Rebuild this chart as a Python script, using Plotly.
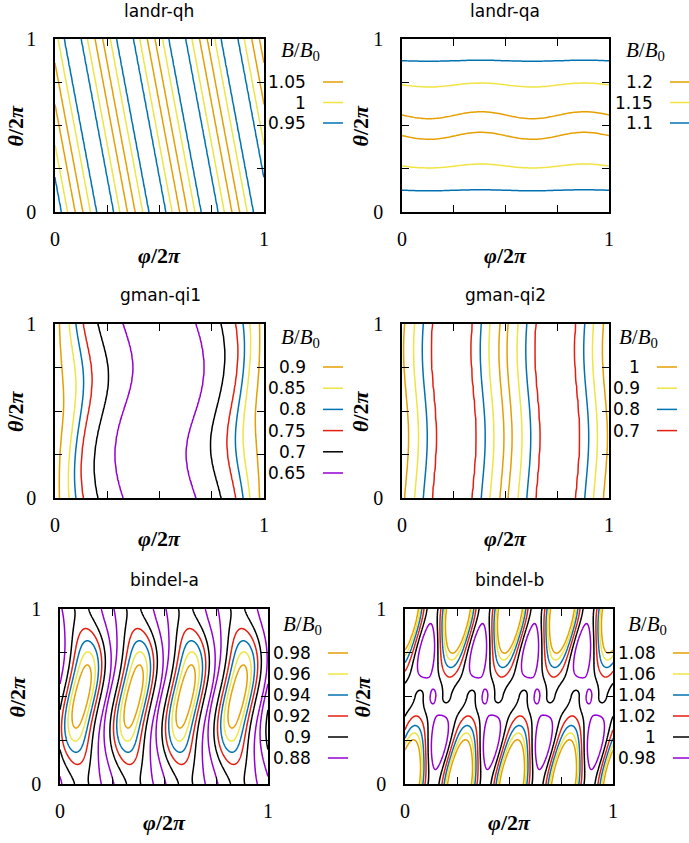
import numpy as np
import plotly.graph_objects as go

W, H = 689, 843

# ---------------- data ----------------
titles = ["landr-qh", "landr-qa", "gman-qi1", "gman-qi2", "bindel-a", "bindel-b"]
palette = ["#e69f00", "#f0e442", "#0072b2", "#e51e10", "#000000", "#9400d3"]  # highest level first
tick_vals = [0, 0.25, 0.5, 0.75, 1]
tick_text = ["0", "", "", "", "1"]

# landr-qh : quasi-helical, B depends on helical phase
qh_levels = [1.05, 1.0, 0.95]
qh_halfwidth = [0.075, 0.22, 0.335]      # phase distance of each level from B max
qh_bmax, qh_bmin = 1.07, 0.91
qh_nfp = 4
qh_theta_slope = 0.62
qh_phase0 = 0.115

# landr-qa : quasi-axisymmetric
qa_levels = [1.2, 1.15, 1.1]
qa_dist = [0.44, 0.265, 0.126]            # poloidal distance from B min (theta = 0)
qa_bmin, qa_bmax = 1.07, 1.215
qa_wiggle = 0.021
qa_wiggle_phase = 0.255

# gman-qi1 : quasi-isodynamic, one well per period
qi1_levels = [0.9, 0.85, 0.8, 0.75, 0.7, 0.65]
qi1_dist = [0.021, 0.068, 0.10, 0.135, 0.205, 0.325]   # toroidal distance from B max
qi1_bmax, qi1_bmin = 0.93, 0.62
qi1_shift = 0.05
qi1_widen = 0.025

# gman-qi2 : quasi-isodynamic, two wells
qi2_levels = [1.0, 0.9, 0.8, 0.7]
qi2_dist = [0.02, 0.068, 0.11, 0.153]
qi2_bmax, qi2_bmin = 1.03, 0.64
qi2_shift = 0.012

# bindel-a : Fourier-type coefficients (mean P, modulation Q; terms 1, cos 2πθ, cos 4πθ)
ba_levels = [0.98, 0.96, 0.94, 0.92, 0.9, 0.88]
ba_P = [0.91725, 0.0245, -0.00225]
ba_Q = [0.03975, 0.023, -0.00225]
ba_phi0, ba_tilt = 0.104, 0.03

# bindel-b : poloidal mean profile D(θ) read at a few poloidal positions, plus modulations
bb_levels = [1.08, 1.06, 1.04, 1.02, 1.0, 0.98]
bb_D_theta = [0.0, 0.1, 0.25, 0.38, 0.5]
bb_D_vals = [1.075, 1.0637, 1.015, 0.9996, 0.992]
bb_m, bb_c, bb_e, bb_s = 0.10, 0.01, 0.004, 0.012
bb_phi0, bb_tilt = 0.072, 0.12

pi = np.pi


def grid(n):
    phi = np.linspace(0, 1, n)
    th = np.linspace(0, 1, n)
    PH, TH = np.meshgrid(phi, th)
    return phi, th, PH, TH


def f_qh(PH, TH):
    u = qh_theta_slope * TH + qh_nfp * (PH - qh_phase0)
    s = np.abs(np.mod(u + 0.5, 1.0) - 0.5)
    return np.interp(s, [0] + qh_halfwidth + [0.5], [qh_bmax] + qh_levels + [qh_bmin])


def f_qa(PH, TH):
    tp = TH - qa_wiggle * np.sin(pi * TH) ** 2 * np.sin(4 * pi * (PH - qa_wiggle_phase))
    d = np.abs(np.mod(tp + 0.5, 1.0) - 0.5)
    return np.interp(d, [0] + qa_dist[::-1] + [0.5], [qa_bmin] + qa_levels[::-1] + [qa_bmax])


def f_qi1(PH, TH):
    pp = PH + qi1_shift * np.sin(pi * PH) * np.sin(2 * pi * TH)
    d = np.minimum(pp, 1 - pp)
    delta = qi1_widen * (1 - np.cos(2 * pi * TH)) / 2
    psi = np.clip(d / 0.0526, 0, 1) * np.clip((0.33 - d) / 0.1, 0, 1)
    d2 = d - delta * psi
    return np.interp(d2, [0] + qi1_dist + [0.5], [qi1_bmax] + qi1_levels + [qi1_bmin])


def f_qi2(PH, TH):
    pp = PH - qi2_shift * np.sin(2 * pi * (TH - 0.1))
    d = np.abs(np.mod(pp + 0.25, 0.5) - 0.25)
    return np.interp(d, [0] + qi2_dist + [0.25], [qi2_bmax] + qi2_levels + [qi2_bmin])


def f_ba(PH, TH):
    c1, c2 = np.cos(2 * pi * TH), np.cos(4 * pi * TH)
    P = ba_P[0] - ba_P[1] * c1 + ba_P[2] * c2
    Q = ba_Q[0] - ba_Q[1] * c1 + ba_Q[2] * c2
    phic = ba_phi0 - ba_tilt * np.sin(2 * pi * TH)
    u = 8 * pi * (PH - phic)
    return P + Q * np.cos(u)


def f_bb(PH, TH):
    # smooth cosine series through the read profile points
    tk = np.array(bb_D_theta)
    A = np.stack([np.cos(2 * pi * k * tk) for k in range(4)], axis=1)
    coef = np.linalg.lstsq(A, np.array(bb_D_vals), rcond=None)[0]
    D = sum(coef[k] * np.cos(2 * pi * k * TH) for k in range(4))
    phil = bb_phi0 + bb_tilt * (TH - 0.5)
    u = 8 * pi * (PH - phil)
    ct = np.cos(pi * TH)
    st = np.sin(pi * TH)
    M = bb_m * np.sign(ct) * np.abs(ct) ** 1.5
    return (D + M * np.cos(u)
            + bb_c * ct ** 2 * np.cos(2 * u)
            - bb_e * st * np.sin(u)
            + bb_s * st ** 30 * np.cos(2 * u))


field_funcs = [f_qh, f_qa, f_qi1, f_qi2, f_ba, f_bb]
grid_n = [121, 121, 161, 161, 241, 281]
levels_all = [qh_levels, qa_levels, qi1_levels, qi2_levels, ba_levels, bb_levels]

# ---------------- layout geometry (pixels) ----------------
boxes = [(55, 264, 39, 212), (402, 609, 39, 212),
         (55, 264, 324, 498), (402, 609, 324, 498),
         (60, 268, 609, 784), (405, 613, 609, 784)]
title_pos = [(159, 11), (505, 11), (160, 295), (505, 295), (164, 580), (509, 580)]
xlab_y = [255, 255, 538, 538, 822, 822]
ylab_x = [15, 360, 15, 360, 17, 362]
leg_title = [(300, 51), (645, 51), (300, 338), (638, 338), (302, 625), (647, 625)]
leg_right = [308, 655, 308, 642, 313, 658]
leg_y0 = [82, 82, 367, 367, 653, 653]
leg_dy = [20.5, 20.5, 21.2, 21.2, 21.0, 21.0]


def px(x):
    return x / W


def py(y):
    return 1 - y / H


fig = go.Figure()
annotations = []
shapes = []

for i in range(6):
    x0, x1, y0, y1 = boxes[i]
    lv = levels_all[i]
    phi, th, PH, TH = grid(grid_n[i])
    Z = field_funcs[i](PH, TH).astype(np.float32)
    xa = "x" if i == 0 else f"x{i+1}"
    ya = "y" if i == 0 else f"y{i+1}"
    for j, L in enumerate(lv):
        fig.add_trace(go.Contour(
            x=phi.astype(np.float32), y=th.astype(np.float32), z=Z,
            xaxis=xa, yaxis=ya, autocontour=False,
            contours=dict(start=L, end=L, size=1, coloring="none", showlabels=False),
            showscale=False, line=dict(width=1.5, color=palette[j], smoothing=0),
            hoverinfo="skip", name=f"{L:g}",
        ))
    axn = "" if i == 0 else str(i + 1)
    common = dict(range=[0, 1], showgrid=False, zeroline=False, showline=True, mirror="ticks",
                  linecolor="black", linewidth=1.5, ticks="inside", ticklen=7, tickwidth=1.2,
                  tickcolor="black", tickvals=tick_vals, ticktext=tick_text,
                  tickfont=dict(family="Liberation Serif", size=20, color="black"),
                  fixedrange=True, automargin=False)
    fig.layout["xaxis" + axn] = dict(common, domain=[px(x0), px(x1)], anchor=ya,
                                     ticklabelstandoff=8)
    fig.layout["yaxis" + axn] = dict(common, domain=[py(y1), py(y0)], anchor=xa,
                                     ticklabelstandoff=13)

    # title
    tx, ty = title_pos[i]
    annotations.append(dict(x=px(tx), y=py(ty), xref="paper", yref="paper", text=titles[i],
                            showarrow=False, xanchor="center", yanchor="middle",
                            font=dict(family="DejaVu Sans", size=17, color="black")))
    # axis labels
    annotations.append(dict(x=px((x0 + x1) / 2), y=py(xlab_y[i]), xref="paper", yref="paper",
                            text="<b><i>φ</i>/2<i>π</i></b>", showarrow=False,
                            xanchor="center", yanchor="middle",
                            font=dict(family="Liberation Serif", size=22, color="black")))
    annotations.append(dict(x=px(ylab_x[i]), y=py((y0 + y1) / 2), xref="paper", yref="paper",
                            text="<b><i>θ</i>/2<i>π</i></b>", showarrow=False, textangle=-90,
                            xanchor="center", yanchor="middle",
                            font=dict(family="Liberation Serif", size=22, color="black")))
    # legend
    lx, ly = leg_title[i]
    annotations.append(dict(x=px(lx), y=py(ly), xref="paper", yref="paper",
                            text="<i>B</i>/<i>B</i><sub>0</sub>", showarrow=False,
                            xanchor="center", yanchor="middle",
                            font=dict(family="Liberation Serif", size=21, color="black")))
    for j, v in enumerate(lv):
        yy = leg_y0[i] + j * leg_dy[i]
        annotations.append(dict(x=px(leg_right[i]), y=py(yy), xref="paper", yref="paper",
                                text=f"{v:g}", showarrow=False, xanchor="right", yanchor="middle",
                                font=dict(family="DejaVu Sans", size=17, color="black")))
        xs = leg_right[i] + 15
        xe = min(xs + 20, W)
        shapes.append(dict(type="line", xref="paper", yref="paper",
                           x0=px(xs), x1=px(xe), y0=py(yy), y1=py(yy),
                           line=dict(color=palette[j], width=1.5)))

fig.update_layout(width=W, height=H, margin=dict(l=0, r=0, t=0, b=0, autoexpand=False),
                  paper_bgcolor="white", plot_bgcolor="white",
                  annotations=annotations, shapes=shapes, showlegend=False)

fig.write_html("out.html", config={"displayModeBar": False},
               post_script="document.body.style.margin='0px';document.body.style.overflow='hidden';")
